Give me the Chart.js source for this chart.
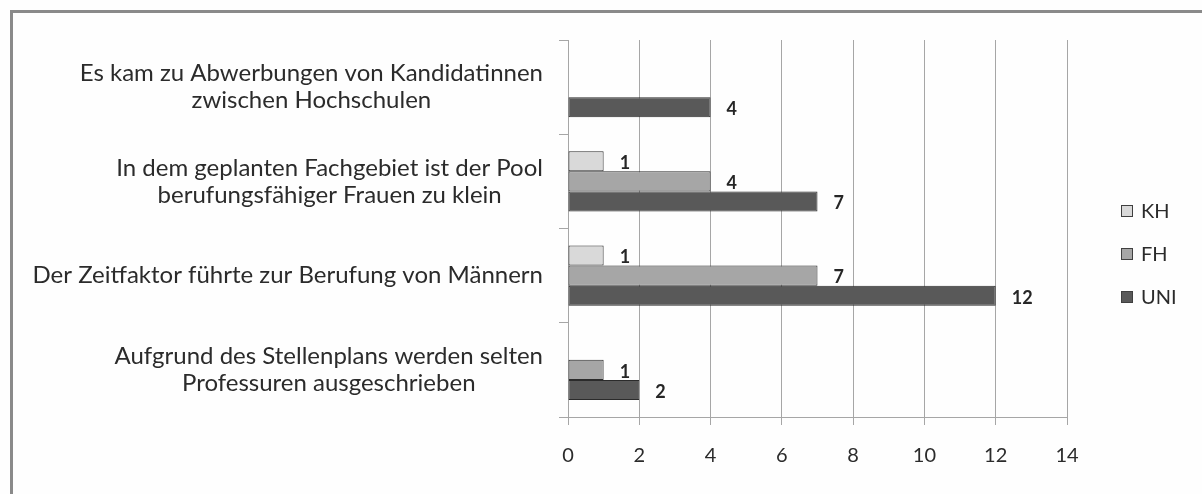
<!DOCTYPE html>
<html>
<head>
<meta charset="utf-8">
<script src="https://cdn.jsdelivr.net/npm/chart.js@4"></script>
<style>
    html, body { margin: 0; padding: 0; background: #fff; }
    #wrap { width: 1202px; height: 494px; }
</style>
</head>
<body>
<div id="wrap"><canvas id="chart" width="1202" height="494"></canvas></div>
<script>
// Daten
const categories = [
    ['Es kam zu Abwerbungen von Kandidatinnen', 'zwischen Hochschulen'],
    ['In dem geplanten Fachgebiet ist der Pool', 'berufungsfähiger Frauen zu klein'],
    ['Der Zeitfaktor führte zur Berufung von Männern'],
    ['Aufgrund des Stellenplans werden selten', 'Professuren ausgeschrieben']
];
const seriesNames = ['KH', 'FH', 'UNI'];
const khValues = [null, 1, 1, null];
const fhValues = [null, 4, 7, 1];
const uniValues = [4, 7, 12, 2];
const xTicks = [0, 2, 4, 6, 8, 10, 12, 14];

const seriesColors = ['#d9d9d9', '#a6a6a6', '#595959'];
const FONT = 'Lato, "Open Sans", sans-serif';

// Rahmen, Wertelabels, Kategorienamen und Legende
const decorPlugin = {
    id: 'decor',
    beforeDraw(chart) {
        const ctx = chart.ctx;
        ctx.save();
        ctx.fillStyle = '#fefefe';
        ctx.fillRect(0, 0, chart.width, chart.height);
        ctx.strokeStyle = '#8a8a8a';
        ctx.lineWidth = 3;
        ctx.strokeRect(11.5, 11.5, chart.width + 40, chart.height + 40);
        ctx.restore();
    },
    afterDatasetsDraw(chart) {
        const ctx = chart.ctx;
        ctx.save();
        ctx.font = 'bold 18px ' + FONT;
        ctx.fillStyle = '#262626';
        ctx.textAlign = 'left';
        ctx.textBaseline = 'middle';
        chart.data.datasets.forEach((ds, di) => {
            const meta = chart.getDatasetMeta(di);
            meta.data.forEach((el, i) => {
                const v = ds.data[i];
                if (v === null || v === undefined) return;
                ctx.fillText(String(v), el.x + 16, el.y + 2);
            });
        });
        ctx.restore();
    },
    afterDraw(chart) {
        const ctx = chart.ctx;
        const yScale = chart.scales.y;
        ctx.save();
        // Kategorienamen: Block rechtsbündig, Zeilen zentriert
        ctx.font = '24px ' + FONT;
        ctx.fillStyle = '#2b2b2b';
        ctx.textAlign = 'center';
        ctx.textBaseline = 'middle';
        const lineH = 27;
        const right = 543;
        categories.forEach((lines, i) => {
            const y = yScale.getPixelForTick(i);
            const w = Math.max(...lines.map(l => ctx.measureText(l).width));
            const cx = right - w / 2;
            const y0 = y - (lines.length - 1) * lineH / 2;
            lines.forEach((l, j) => ctx.fillText(l, cx, y0 + j * lineH));
        });

        // Legende
        ctx.font = '20px ' + FONT;
        ctx.textAlign = 'left';
        chart.data.datasets.forEach((ds, i) => {
            const y = 211 + i * 43;
            ctx.fillStyle = ds.backgroundColor;
            ctx.fillRect(1121, y - 6, 12, 12);
            ctx.strokeStyle = '#404040';
            ctx.lineWidth = 1;
            ctx.strokeRect(1121.5, y - 5.5, 11, 11);
            ctx.fillStyle = '#2b2b2b';
            ctx.fillText(ds.label, 1141, y + 1);
        });
        ctx.restore();
    }
};

const ctx = document.getElementById('chart').getContext('2d');
const datasets = [khValues, fhValues, uniValues].map((vals, i) => ({
    label: seriesNames[i],
    data: vals,
    backgroundColor: seriesColors[i],
    borderColor: '#2b2b2b',
    borderWidth: 1,
    borderSkipped: false,
    categoryPercentage: 0.64,
    barPercentage: 1.0
}));

new Chart(ctx, {
    type: 'bar',
    data: { labels: categories, datasets: datasets },
    options: {
        indexAxis: 'y',
        responsive: false,
        animation: false,
        layout: { padding: { left: 0, top: 40, right: 135, bottom: 0 } },
        plugins: {
            legend: { display: false },
            tooltip: { enabled: false }
        },
        scales: {
            x: {
                type: 'linear',
                min: 0,
                max: 14,
                afterBuildTicks: s => { s.ticks = xTicks.map(v => ({ value: v })); },
                afterFit: s => { s.height = 77; },
                ticks: {
                    font: { family: FONT, size: 20 },
                    color: '#2b2b2b',
                    padding: 19
                },
                grid: { color: '#a6a6a6', tickLength: 8 },
                border: { color: '#a6a6a6' }
            },
            y: {
                type: 'category',
                offset: true,
                afterFit: s => { s.width = 568; },
                ticks: { display: false },
                grid: { drawOnChartArea: false, offset: true, tickLength: 9, color: '#a6a6a6' },
                border: { color: '#a6a6a6' }
            }
        }
    },
    plugins: [decorPlugin]
});
</script>
</body>
</html>
